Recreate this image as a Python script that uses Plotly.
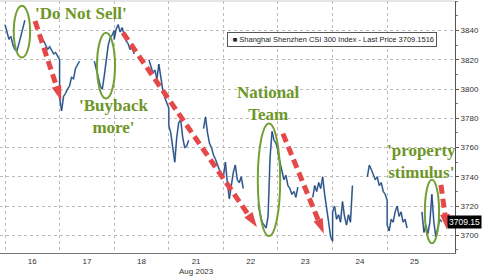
import plotly.graph_objects as go

# ---------------- data (CSI 300 intraday) ----------------
day_labels = ["16", "17", "18", "21<br>Aug 2023", "22", "23", "24", "25"]

am_minutes = [0, 12, 24, 36, 48, 60, 72, 84, 96, 108, 120]          # 09:30 -> 11:30
pm_minutes = [210, 222, 234, 246, 258, 270, 282, 294, 306, 318, 330]  # 13:00 -> 15:00
session_len = 330

aug16_am = [3844, 3838, 3834, 3836, 3830, 3827, 3826, 3831, 3837, 3843, 3847]
aug16_pm = [3837, 3834, 3833, 3830, 3827, 3829, 3826, 3824, 3825, 3822, 3820]
aug17_am = [3794, 3785, 3795, 3797, 3800, 3802, 3808, 3807, 3814, 3817, 3819]
aug17_pm = [3819, 3814, 3808, 3802, 3800, 3809, 3820, 3830, 3835, 3837, 3840]
aug18_am = [3834, 3841, 3844, 3839, 3842, 3837, 3833, 3831, 3827, 3829, 3824]
aug18_pm = [3820, 3816, 3811, 3813, 3807, 3817, 3806, 3799, 3794, 3790, 3787]
aug21_am = [3775, 3770, 3760, 3750, 3767, 3777, 3779, 3767, 3760, 3761, 3765]
aug21_pm = [3773, 3781, 3770, 3763, 3760, 3755, 3752, 3748, 3745, 3741, 3740]
aug22_am = [3740, 3750, 3736, 3725, 3734, 3743, 3748, 3738, 3736, 3740, 3732]
aug22_pm = [3721, 3714, 3709, 3707, 3705, 3713, 3753, 3771, 3765, 3763, 3758]
aug23_am = [3756, 3750, 3743, 3738, 3741, 3734, 3732, 3728, 3730, 3726, 3733]
aug23_pm = [3726, 3734, 3730, 3736, 3732, 3740, 3728, 3720, 3709, 3699, 3696]
aug24_am = [3716, 3720, 3711, 3714, 3709, 3723, 3713, 3707, 3714, 3709, 3734]
aug24_pm = [3740, 3748, 3745, 3741, 3738, 3740, 3734, 3736, 3730, 3728, 3724]
aug25_am = [3707, 3703, 3711, 3709, 3716, 3720, 3713, 3716, 3709, 3711, 3705]
aug25_pm = [3716, 3702, 3707, 3701, 3709, 3728, 3709, 3699, 3705, 3711, 3709.1516]

sessions = [
    (aug16_am, aug16_pm), (aug17_am, aug17_pm), (aug18_am, aug18_pm),
    (aug21_am, aug21_pm), (aug22_am, aug22_pm), (aug23_am, aug23_pm),
    (aug24_am, aug24_pm), (aug25_am, aug25_pm),
]
last_price = aug25_pm[-1]

y_ticks = [3700, 3720, 3740, 3760, 3780, 3800, 3820, 3840]

# annotation texts and their anchor points (x in trading-day units, y in index points)
notes = [
    ("'Do Not Sell'", 1.39, 3851.5),
    ("'Buyback<br>more'", 2.0, 3781.0),
    ("National<br>Team", 4.82, 3790.0),
    ("'property<br>stimulus'", 7.62, 3750.5),
]
ellipses = [  # x0, x1, y0, y1
    (0.16, 0.46, 3821.5, 3857.0),
    (1.685, 2.015, 3793.5, 3838.5),
    (4.63, 5.04, 3699.5, 3776.5),
    (7.69, 7.95, 3694.5, 3738.0),
]
arrows = [  # (x_start, y_start, x_tip, y_tip)
    (0.55, 3846.5, 1.03, 3792.0),
    (2.16, 3838.5, 4.615, 3705.5),
    (5.09, 3769.5, 5.84, 3701.0),
    (7.985, 3734.5, 8.095, 3704.0),
]

# ---------------- build the series ----------------
xs, ys = [], []
for k, (am, pm) in enumerate(sessions):
    xs += [k + m / session_len for m in am_minutes]
    ys += am
    xs.append(None)
    ys.append(None)
    xs += [k + m / session_len for m in pm_minutes]
    ys += pm

fig = go.Figure()
fig.add_trace(go.Scatter(x=xs, y=ys, mode="lines", connectgaps=False,
                         line=dict(color="#7aa6d4", width=1.8), hoverinfo="skip"))
fig.add_trace(go.Scatter(x=xs, y=ys, mode="lines", connectgaps=False,
                         line=dict(color="#1b305c", width=0.8), hoverinfo="skip"))

red = "#e44848"
for (x0, y0, x1, y1) in arrows:
    fig.add_trace(go.Scatter(
        x=[x0, x1], y=[y0, y1], mode="lines+markers",
        line=dict(color=red, width=5, dash="9px,5px"),
        marker=dict(symbol="arrow", size=[0, 16], angleref="previous", color=red,
                    opacity=1, line=dict(width=0)),
        hoverinfo="skip"))

green = "#6e9628"
for (x0, x1, y0, y1) in ellipses:
    fig.add_shape(type="circle", xref="x", yref="y", x0=x0, x1=x1, y0=y0, y1=y1,
                  line=dict(color="#73a034", width=2))

for (txt, x, y) in notes:
    fig.add_annotation(x=x, y=y, xref="x", yref="y", text="<b>" + txt + "</b>",
                       showarrow=False,
                       font=dict(family="Liberation Serif", size=17, color=green))

# legend-like box
fig.add_annotation(xref="paper", yref="paper", x=0.499, y=0.848, xanchor="left",
                   yanchor="middle",
                   text="<span style='color:#aaa'>▫</span>■ Shanghai Shenzhen CSI 300 Index - Last Price "
                        + f"{last_price:.4f}",
                   showarrow=False, bgcolor="white", bordercolor="#555", borderwidth=1,
                   borderpad=2, font=dict(family="Liberation Sans", size=7.5, color="#222"))

# last price tag
fig.add_annotation(xref="paper", yref="y", x=1.0, y=last_price, xanchor="left",
                   xshift=-8, text=f"{last_price:.2f}", showarrow=False,
                   bgcolor="black", borderpad=1,
                   font=dict(family="Liberation Sans", size=8.5, color="white"))

fig.update_layout(
    width=485, height=276,
    margin=dict(l=0, r=30, t=1, b=19),
    paper_bgcolor="white", plot_bgcolor="white",
    showlegend=False,
    xaxis=dict(
        range=[-0.0916, 8.242],
        tickvals=[k + 0.5 for k in range(len(day_labels))],
        ticktext=day_labels, ticks="", showgrid=False, zeroline=False,
        showline=True, linecolor="#777", linewidth=1, mirror=False,
        tickfont=dict(family="Liberation Sans", size=8, color="#333"),
        minor=dict(tickvals=list(range(len(day_labels))), showgrid=True,
                   gridcolor="#bbb", griddash="dot", gridwidth=1, ticks=""),
    ),
    yaxis=dict(
        side="right", range=[3687.9, 3860.2], tickvals=y_ticks,
        showgrid=True, gridcolor="#bbb", griddash="dot", gridwidth=1,
        zeroline=False, showline=True, linecolor="#555", linewidth=1,
        ticks="outside", ticklen=3, tickcolor="#555",
        tickfont=dict(family="Liberation Sans", size=8, color="#333"),
        minor=dict(dtick=10, ticks="outside", ticklen=2, tickcolor="#777", showgrid=False),
    ),
)
fig.add_shape(type="line", xref="paper", yref="paper", x0=0, x1=1, y0=1, y1=1,
              line=dict(color="#ccc", width=1))

fig.write_html("out.html")
